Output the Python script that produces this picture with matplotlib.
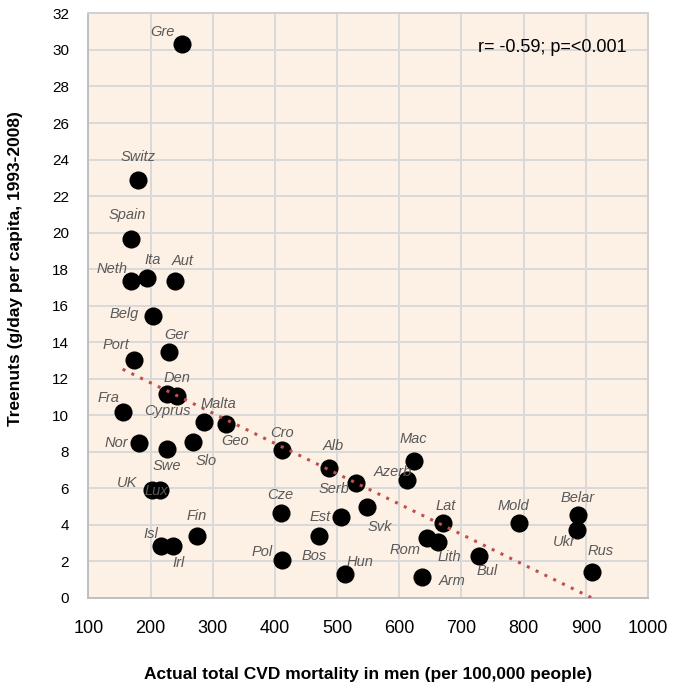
import numpy as np
import matplotlib
matplotlib.use('Agg')
import matplotlib.pyplot as plt

# Country data: CVD mortality in men vs tree nut supply
countries = ['Gre', 'Switz', 'Spain', 'Neth', 'Ita', 'Aut', 'Belg', 'Ger', 'Port',
             'Cyprus', 'Den', 'Fra', 'Malta', 'Geo', 'Nor', 'Swe', 'Slo', 'Cro',
             'Alb', 'Serb', 'Svk', 'Azerb', 'Mac', 'UK', 'Lux', 'Cze', 'Est', 'Bos',
             'Fin', 'Isl', 'Irl', 'Pol', 'Hun', 'Lat', 'Rom', 'Lith', 'Bul', 'Arm',
             'Mold', 'Belar', 'Ukr', 'Rus']
cvd_mortality = [250, 180, 168, 169, 195, 239, 204, 229, 173,
                 227, 243, 155, 286, 322, 182, 226, 268, 412,
                 487, 531, 548, 612, 623, 202, 215, 409, 506, 471,
                 274, 217, 236, 412, 513, 670, 644, 663, 728, 637,
                 792, 887, 885, 910]
treenuts = [30.3, 22.9, 19.65, 17.35, 17.5, 17.35, 15.45, 13.45, 13.0,
            11.15, 11.05, 10.15, 9.65, 9.5, 8.47, 8.16, 8.54, 8.1,
            7.1, 6.28, 5.0, 6.46, 7.48, 5.9, 5.9, 4.67, 4.42, 3.41,
            3.41, 2.86, 2.86, 2.08, 1.3, 4.09, 3.30, 3.05, 2.30, 1.17,
            4.09, 4.54, 3.72, 1.39]
# label offsets in pixels (dx right, dy up)
label_offsets = [(-19, 12), (0, 23), (-3, 24), (-19, 12), (5, 18), (8, 20), (-29, 2), (8, 17), (-18, 15),
                 (0, -17), (0, 18), (-14, 14), (14, 18), (9, -17), (-23, 0), (0, -17), (13, -19), (0, 17),
                 (4, 22), (-22, -6), (13, -20), (-14, 8), (0, 22), (-25, 7), (-4, -1), (0, 18), (-21, 0), (-5, -20),
                 (0, 20), (-10, 12), (6, -17), (-20, 8), (15, 12), (3, 17), (-22, -12), (11, -15), (8, -15), (30, -4),
                 (-5, 17), (0, 17), (-12, -12), (9, 21)]
stats_text = 'r= -0.59; p=<0.001'

plt.rcParams['font.family'] = ['Liberation Sans', 'DejaVu Sans']

fig = plt.figure(figsize=(6.8, 6.88), dpi=100)
ax = fig.add_axes([0.130, 0.131, 0.823, 0.8495])
ax.set_facecolor('#FDF0E5')

x = np.array(cvd_mortality, dtype=float)
y = np.array(treenuts, dtype=float)

# linear trend across the data range
slope, intercept = np.polyfit(x, y, 1)
xs = np.linspace(x.min(), x.max(), 50)
ax.plot(xs, slope * xs + intercept, color='#C0504D', linestyle=(0, (1, 2.2)),
        linewidth=2.2, zorder=3)

ax.scatter(x, y, s=170, color='black', zorder=2, linewidths=0)

for name, xi, yi, (dx, dy) in zip(countries, x, y, label_offsets):
    ax.annotate(name, (xi, yi), xytext=(dx, dy), textcoords='offset pixels',
                ha='center', va='center', fontsize=10.5, style='italic',
                color='#595959', zorder=4)

ax.text(0.829, 0.942, stats_text, transform=ax.transAxes, ha='center', va='center',
        fontsize=13, color='black')

ax.set_xlim(100, 1000)
ax.set_ylim(0, 32)
ax.set_xticks(range(100, 1001, 100))
ax.set_yticks(range(0, 33, 2))
ax.grid(True, color='#D9D9D9', linewidth=1.4, zorder=0)
ax.set_axisbelow(True)
for spine in ax.spines.values():
    spine.set_color('#D0D0D0')
    spine.set_linewidth(1.4)
ax.spines['left'].set_color('#BFBFBF')
ax.spines['bottom'].set_color('#BFBFBF')
ax.tick_params(axis='both', length=0)
ax.tick_params(axis='x', labelsize=13, pad=16)
ax.tick_params(axis='y', labelsize=11, pad=14)

ax.set_xlabel('Actual total CVD mortality in men (per 100,000 people)',
              fontsize=12.5, fontweight='bold')
ax.xaxis.set_label_coords(0.5, -0.118)
ax.set_ylabel('Treenuts (g/day per capita, 1993-2008)',
              fontsize=12.5, fontweight='bold')
ax.yaxis.set_label_coords(-0.116, 0.564)

fig.savefig('out.png', dpi=100)
